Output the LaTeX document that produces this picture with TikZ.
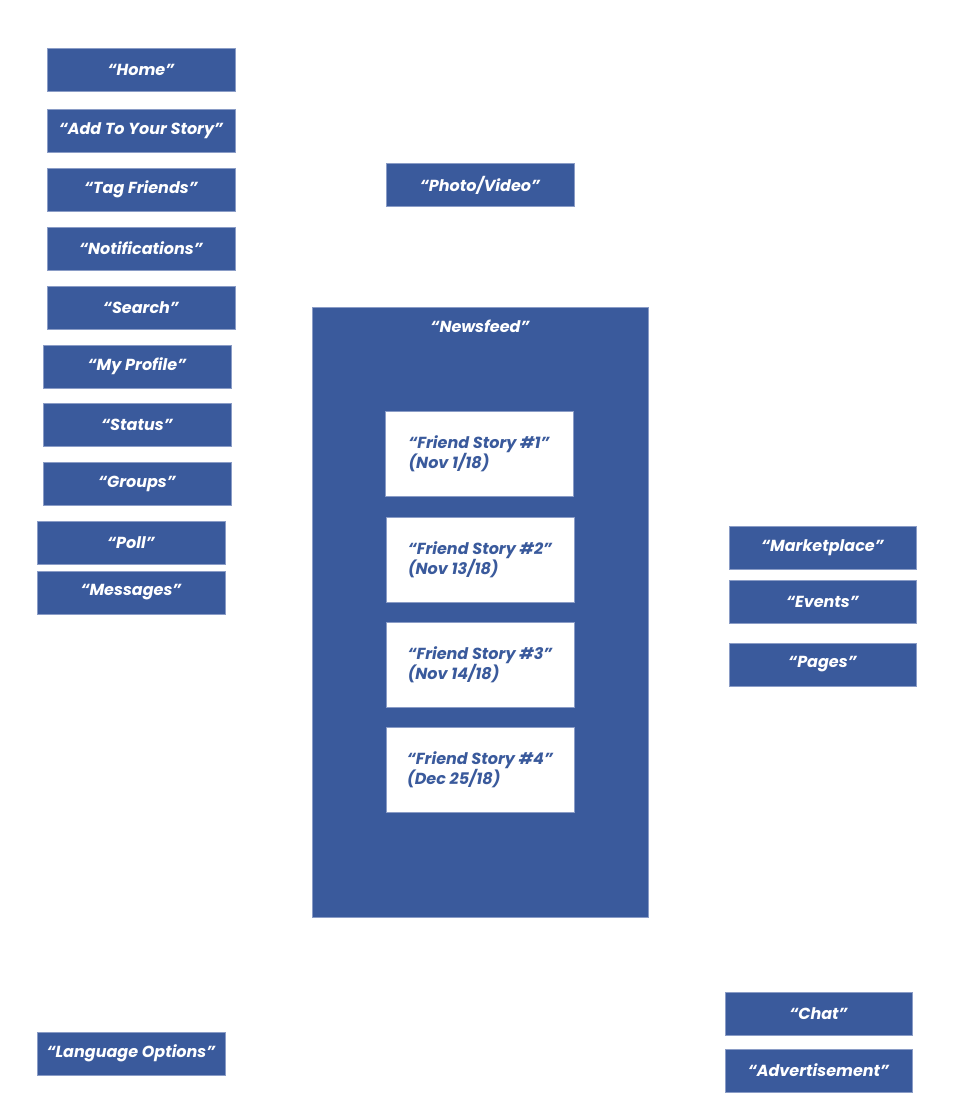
\documentclass[tikz,border=0pt]{standalone}
\usepackage{fontspec}
\setmainfont{Poppins}
\definecolor{fbblue}{HTML}{3A5A9C}
\definecolor{fbedge}{HTML}{8A9CC6}
\tikzset{
  x=1pt, y=-1pt,
  btn/.style={rectangle, fill=fbblue, draw=fbedge, line width=0.6pt,
    minimum width=188pt, minimum height=43pt, inner sep=0pt,
    text=white, font=\fontsize{16}{19}\selectfont\bfseries\itshape},
  story/.style={rectangle, fill=white, draw=fbedge, line width=0.6pt,
    minimum width=188pt, minimum height=85pt, inner sep=0pt, align=left,
    text=fbblue, font=\fontsize{16}{19}\selectfont\bfseries\itshape},
  feed/.style={rectangle, fill=fbblue, draw=fbedge, line width=0.6pt,
    minimum width=336pt, minimum height=610pt, inner sep=0pt}
}
\begin{document}
\begin{tikzpicture}
\useasboundingbox (0,0) rectangle (960,1119);
% left column
\node[btn] (home) at (141,69.5) {“Home”};
\node[btn] (story) at (141,130.5) {“Add To Your Story”};
\node[btn] (tag) at (141,189.5) {“Tag Friends”};
\node[btn] (notif) at (141,248.5) {“Notifications”};
\node[btn] (search) at (141,307.5) {“Search”};
\node[btn] (profile) at (137,366.5) {“My Profile”};
\node[btn] (status) at (137,424.5) {“Status”};
\node[btn] (groups) at (137,483.5) {“Groups”};
\node[btn] (poll) at (131,542.5) {“Poll”};
\node[btn] (msgs) at (131,592.5) {“Messages”};
\node[btn] (lang) at (131,1053.5) {“Language Options”};
% center
\node[btn] (photo) at (480,185) {“Photo/Video”};
\node[feed, label={[anchor=center, yshift=-20pt, text=white, font=\fontsize{16}{19}\selectfont\bfseries\itshape]north:{“Newsfeed”}}] (newsfeed) at (480,612) {};
\node[story] (fs1) at (479,453.5) {“Friend Story \#1”\\(Nov 1/18)};
\node[story] (fs2) at (480,559.5) {“Friend Story \#2”\\(Nov 13/18)};
\node[story] (fs3) at (480,664.5) {“Friend Story \#3”\\(Nov 14/18)};
\node[story] (fs4) at (480,769.5) {“Friend Story \#4”\\(Dec 25/18)};
% right column
\node[btn, minimum width=187pt] (market) at (822.5,547.5) {“Marketplace”};
\node[btn, minimum width=187pt] (events) at (822.5,601.5) {“Events”};
\node[btn, minimum width=187pt] (pages) at (822.5,664.5) {“Pages”};
\node[btn, minimum width=187pt] (chat) at (818.5,1013.5) {“Chat”};
\node[btn, minimum width=187pt] (ads) at (818.5,1070.5) {“Advertisement”};
\end{tikzpicture}
\end{document}
